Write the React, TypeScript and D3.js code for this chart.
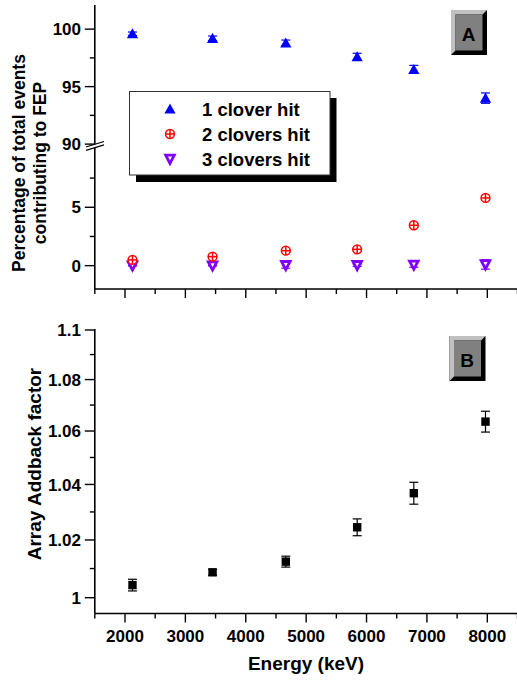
import React from 'react';
import { scaleLinear, range } from 'd3';

const energy = [2124, 3450, 4663, 5845, 6783, 7970];
const oneClover = [99.6, 99.2, 98.8, 97.6, 96.5, 94.0];
const oneCloverErr = [0.15, 0.2, 0.25, 0.3, 0.35, 0.45];
const twoClovers = [0.49, 0.77, 1.28, 1.4, 3.46, 5.8];
const twoCloversErr = [0.1, 0.1, 0.1, 0.12, 0.15, 0.2];
const threeClovers = [0, 0, 0.03, 0.03, 0.06, 0.1];
const threeCloversErr = [0.03, 0.03, 0.25, 0.1, 0.2, 0.4];
const addback = [1.0043, 1.0087, 1.0124, 1.0245, 1.0368, 1.0636];
const addbackErr = [0.002, 0.001, 0.0019, 0.003, 0.004, 0.004];

const xTicks = [2000, 3000, 4000, 5000, 6000, 7000, 8000];
const upperTicks = [90, 95, 100];
const lowerTicks = [0, 5];
const addbackTicks = [1, 1.02, 1.04, 1.06, 1.08, 1.1];
const legendLabels = ['1 clover hit', '2 clovers hit', '3 clovers hit'];

const W = 517;
const H = 680;
const font = '"Liberation Sans", Arial, sans-serif';
const axisX = 94.8;
const topBase = 289;
const botBase = 613.5;

const x = scaleLinear().domain([1500, 8500]).range([axisX, 517.5]);
// broken y axis of panel A
const yUp = scaleLinear().domain([90, 102.1]).range([144.1, 5]);
const yLo = scaleLinear().domain([-2, 10]).range([289, 148.9]);
const yA = (v: number) => (v > 50 ? yUp(v) : yLo(v));
// panel B uses a reciprocal scale
const recip = scaleLinear().domain([1, 1 / 1.1]).range([597.7, 330]);
const yB = (v: number) => recip(1 / v);

const BLUE = '#0000ff';
const RED = '#ff0000';
const VIOLET = '#8000ff';

const ErrBar = ({ cx, y1, y2, color }: { cx: number; y1: number; y2: number; color: string }) => (
  <g stroke={color} strokeWidth={1.2}>
    <line x1={cx} x2={cx} y1={y1} y2={y2} />
    <line x1={cx - 4.5} x2={cx + 4.5} y1={y1} y2={y1} />
    <line x1={cx - 4.5} x2={cx + 4.5} y1={y2} y2={y2} />
  </g>
);

const UpTri = ({ cx, cy }: { cx: number; cy: number }) => (
  <path d={`M${cx},${cy - 5.5} L${cx + 5.6},${cy + 4.6} L${cx - 5.6},${cy + 4.6} Z`} fill={BLUE} />
);
const CirclePlus = ({ cx, cy }: { cx: number; cy: number }) => (
  <g stroke={RED} strokeWidth={1.5} fill="white">
    <circle cx={cx} cy={cy} r={4.4} />
    <line x1={cx - 4.4} x2={cx + 4.4} y1={cy} y2={cy} />
    <line x1={cx} x2={cx} y1={cy - 4.4} y2={cy + 4.4} />
  </g>
);
const DownTri = ({ cx, cy }: { cx: number; cy: number }) => (
  <path
    d={`M${cx - 4.3},${cy - 3.8} L${cx + 4.3},${cy - 3.8} L${cx},${cy + 4.4} Z`}
    fill="white"
    stroke={VIOLET}
    strokeWidth={2.8}
    strokeLinejoin="miter"
  />
);

const LabelBox = ({ x0, y0, text }: { x0: number; y0: number; text: string }) => {
  const w = 36;
  const h = 45;
  const b = 4.5;
  return (
    <g>
      <rect x={x0} y={y0} width={w} height={h} fill="#000" />
      <path d={`M${x0},${y0} L${x0 + w},${y0} L${x0 + w - b},${y0 + b} L${x0 + b},${y0 + b} L${x0 + b},${y0 + h - b} L${x0},${y0 + h} Z`} fill="#c0c0c0" />
      <rect x={x0 + b} y={y0 + b} width={w - 2 * b} height={h - 2 * b} fill="#808080" />
      <text x={x0 + w / 2 - 0.5} y={y0 + 31} textAnchor="middle" fontSize={19} fontWeight="bold" fontFamily={font}>
        {text}
      </text>
    </g>
  );
};

const XAxis = ({ y0, labels }: { y0: number; labels: boolean }) => (
  <g>
    <line x1={axisX} x2={W} y1={y0} y2={y0} stroke="#000" strokeWidth={1.6} />
    {range(1500, 8501, 500).map(t => {
      const major = t % 1000 === 0;
      return <line key={t} x1={x(t)} x2={x(t)} y1={y0} y2={y0 + (major ? 9 : 5)} stroke="#000" strokeWidth={1.4} />;
    })}
    {labels &&
      xTicks.map(t => (
        <text key={t} x={x(t)} y={y0 + 28.5} textAnchor="middle" fontSize={17} fontWeight="bold" fontFamily={font}>
          {t}
        </text>
      ))}
  </g>
);

const YTick = ({ y, major, label }: { y: number; major: boolean; label?: string }) => (
  <g>
    <line x1={axisX - (major ? 10 : 5)} x2={axisX} y1={y} y2={y} stroke="#000" strokeWidth={1.4} />
    {label !== undefined && (
      <text x={81} y={y} dy="0.36em" textAnchor="end" fontSize={17} fontWeight="bold" fontFamily={font}>
        {label}
      </text>
    )}
  </g>
);

const App = () => {
  const legendY = [109, 134, 159];
  return (
    <svg width={W} height={H} style={{ position: 'absolute', left: 0, top: 0, background: 'white' }}>
      <rect width={W} height={H} fill="white" />

      {/* Panel A */}
      <line x1={axisX} x2={axisX} y1={5} y2={144.4} stroke="#000" strokeWidth={1.6} />
      <line x1={axisX} x2={axisX} y1={147.9} y2={topBase} stroke="#000" strokeWidth={1.6} />
      <line x1={86} y1={147} x2={104} y2={141.5} stroke="#000" strokeWidth={1.3} />
      <line x1={86} y1={150.4} x2={104} y2={144.9} stroke="#000" strokeWidth={1.3} />
      {upperTicks.map(t => (
        <YTick key={t} y={yUp(t)} major label={String(t)} />
      ))}
      {[92.5, 97.5].map(t => (
        <YTick key={t} y={yUp(t)} major={false} />
      ))}
      {lowerTicks.map(t => (
        <YTick key={t} y={yLo(t)} major label={String(t)} />
      ))}
      {[2.5, 7.5].map(t => (
        <YTick key={t} y={yLo(t)} major={false} />
      ))}
      <XAxis y0={topBase} labels={false} />

      <g transform="translate(25,163) rotate(-90)">
        <text textAnchor="middle" fontSize={17.5} fontWeight="bold" fontFamily={font}>
          Percentage of total events
        </text>
      </g>
      <g transform="translate(46,163) rotate(-90)">
        <text textAnchor="middle" fontSize={17.5} fontWeight="bold" fontFamily={font}>
          contributing to FEP
        </text>
      </g>

      {energy.map((e, i) => (
        <g key={`a${i}`}>
          <ErrBar cx={x(e)} y1={yA(threeClovers[i] + threeCloversErr[i])} y2={yA(threeClovers[i] - threeCloversErr[i])} color={VIOLET} />
          <DownTri cx={x(e)} cy={yA(threeClovers[i])} />
          <ErrBar cx={x(e)} y1={yA(twoClovers[i] + twoCloversErr[i])} y2={yA(twoClovers[i] - twoCloversErr[i])} color={RED} />
          <CirclePlus cx={x(e)} cy={yA(twoClovers[i])} />
          <ErrBar cx={x(e)} y1={yA(oneClover[i] + oneCloverErr[i])} y2={yA(oneClover[i] - oneCloverErr[i])} color={BLUE} />
          <UpTri cx={x(e)} cy={yA(oneClover[i])} />
        </g>
      ))}

      {/* legend */}
      <rect x={136} y={98} width={200.5} height={84} fill="#000" />
      <rect x={129.5} y={91.5} width={200.5} height={83.5} fill="white" stroke="#333" strokeWidth={1} />
      <UpTri cx={170} cy={legendY[0]} />
      <CirclePlus cx={170} cy={legendY[1]} />
      <DownTri cx={170} cy={legendY[2]} />
      {legendLabels.map((l, i) => (
        <text key={l} x={202} y={legendY[i]} dy="0.36em" fontSize={18.5} fontWeight="bold" fontFamily={font}>
          {l}
        </text>
      ))}

      <LabelBox x0={451} y0={10} text="A" />

      {/* Panel B */}
      <line x1={axisX} x2={axisX} y1={329} y2={botBase} stroke="#000" strokeWidth={1.6} />
      {addbackTicks.map(t => (
        <YTick key={t} y={yB(t)} major label={String(t)} />
      ))}
      {[1.01, 1.03, 1.05, 1.07, 1.09].map(t => (
        <YTick key={t} y={yB(t)} major={false} />
      ))}
      <XAxis y0={botBase} labels />

      <g transform="translate(40.7,464) rotate(-90)">
        <text textAnchor="middle" fontSize={19} fontWeight="bold" fontFamily={font}>
          Array Addback factor
        </text>
      </g>
      <text x={306} y={670} textAnchor="middle" fontSize={19} fontWeight="bold" fontFamily={font}>
        Energy (keV)
      </text>

      {energy.map((e, i) => (
        <g key={`b${i}`}>
          <ErrBar cx={x(e)} y1={yB(addback[i] + addbackErr[i])} y2={yB(addback[i] - addbackErr[i])} color="#000" />
          <rect x={x(e) - 4.2} y={yB(addback[i]) - 4.2} width={8.4} height={8.4} fill="#000" />
        </g>
      ))}

      <LabelBox x0={449.5} y0={336} text="B" />
    </svg>
  );
};

export default App;
